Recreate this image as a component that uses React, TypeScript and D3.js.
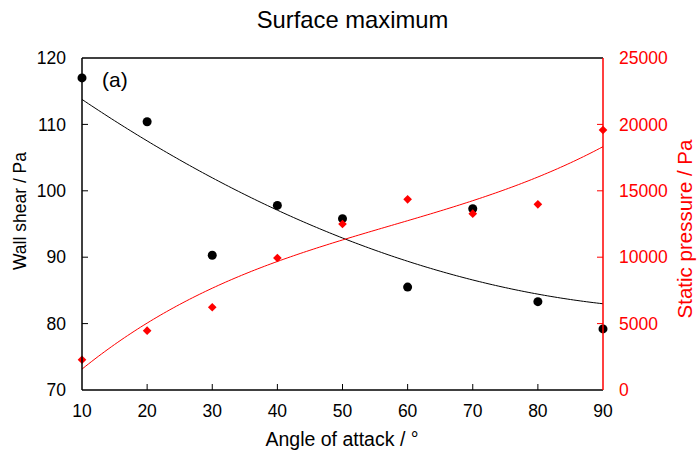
import React from 'react';
import * as d3 from 'd3';

// values
const angles = [10, 20, 30, 40, 50, 60, 70, 80, 90];
const wallShear = [117.0, 110.4, 90.3, 97.8, 95.8, 85.5, 97.3, 83.3, 79.2];
const staticPressure = [2280, 4470, 6230, 9940, 12500, 14360, 13280, 13980, 19580];

const xTicks = [10, 20, 30, 40, 50, 60, 70, 80, 90];
const shearTicks = [70, 80, 90, 100, 110, 120];
const pressureTicks = [0, 5000, 10000, 15000, 20000, 25000];

const FONT = 'Liberation Sans, Arial, sans-serif';
const RED = '#ff0000';

// least squares polynomial fit (normal equations)
function polyfit(xs: number[], ys: number[], order: number) {
  const n = order + 1;
  const A: number[][] = [];
  for (let i = 0; i < n; i++) {
    A.push([]);
    for (let j = 0; j < n; j++) A[i].push(d3.sum(xs, x => Math.pow(x, i + j)));
    A[i].push(d3.sum(xs, (x, k) => Math.pow(x, i) * ys[k]));
  }
  for (let c = 0; c < n; c++) {
    let p = c;
    for (let r = c + 1; r < n; r++) if (Math.abs(A[r][c]) > Math.abs(A[p][c])) p = r;
    [A[c], A[p]] = [A[p], A[c]];
    for (let r = 0; r < n; r++) {
      if (r === c) continue;
      const f = A[r][c] / A[c][c];
      for (let k = c; k <= n; k++) A[r][k] -= f * A[c][k];
    }
  }
  const coef = A.map((row, i) => row[n] / row[i]);
  return (x: number) => coef.reduce((s, a, i) => s + a * Math.pow(x, i), 0);
}

const App = () => {
  const margin = { top: 58, right: 96, bottom: 65, left: 82 };
  const W = 699;
  const H = 455;
  const width = W - margin.left - margin.right;
  const height = H - margin.top - margin.bottom;

  const x = d3.scaleLinear().domain([10, 90]).range([0, width]);
  const yL = d3.scaleLinear().domain([70, 120]).range([height, 0]);
  const yR = d3.scaleLinear().domain([0, 25000]).range([height, 0]);

  const shearFit = polyfit(angles, wallShear, 2);
  const pressureFit = polyfit(angles, staticPressure, 3);
  const xs = d3.range(10, 90.001, 0.5);

  const shearLine = d3.line<number>().x(d => x(d)).y(d => yL(shearFit(d)));
  const pressureLine = d3.line<number>().x(d => x(d)).y(d => yR(pressureFit(d)));

  const diamond = d3.symbol().type(d3.symbolDiamond2).size(48)();

  return (
    <svg width={W} height={H} style={{ position: 'absolute', left: 0, top: 0 }} fontFamily={FONT}>
      <text x={margin.left + width / 2 + 10} y={28} textAnchor="middle" fontSize={23.8}>Surface maximum</text>
      <g transform={`translate(${margin.left},${margin.top})`}>
        {/* ticks */}
        {xTicks.slice(1, -1).map(t => (
          <line key={'xt' + t} x1={x(t)} x2={x(t)} y1={height} y2={height - 6} stroke="#000" />
        ))}
        {shearTicks.slice(1, -1).map(t => (
          <line key={'lt' + t} x1={0} x2={6} y1={yL(t)} y2={yL(t)} stroke="#000" />
        ))}
        {pressureTicks.slice(1, -1).map(t => (
          <line key={'rt' + t} x1={width} x2={width - 6} y1={yR(t)} y2={yR(t)} stroke={RED} />
        ))}

        {/* fits */}
        <path d={shearLine(xs) || ''} fill="none" stroke="#000" strokeWidth={1} />
        <path d={pressureLine(xs) || ''} fill="none" stroke={RED} strokeWidth={1} />

        {/* markers */}
        {angles.map((a, i) => (
          <circle key={'c' + a} cx={x(a)} cy={yL(wallShear[i])} r={4.5} fill="#000" />
        ))}
        {angles.map((a, i) => (
          <path key={'d' + a} d={diamond || ''} transform={`translate(${x(a)},${yR(staticPressure[i])})`} fill={RED} />
        ))}

        {/* frame */}
        <line x1={0} x2={width} y1={0} y2={0} stroke="#000" strokeWidth={1.5} />
        <line x1={0} x2={width} y1={height} y2={height} stroke="#000" strokeWidth={1.5} />
        <line x1={0} x2={0} y1={0} y2={height} stroke="#000" strokeWidth={1.5} />
        <line x1={width} x2={width} y1={0} y2={height} stroke={RED} strokeWidth={1.5} />

        {/* tick labels */}
        {xTicks.map(t => (
          <text key={'xl' + t} x={x(t)} y={height + 27} textAnchor="middle" fontSize={17.5}>{t}</text>
        ))}
        {shearTicks.map(t => (
          <text key={'ll' + t} x={-16} y={yL(t)} dy="0.35em" textAnchor="end" fontSize={17.5}>{t}</text>
        ))}
        {pressureTicks.map(t => (
          <text key={'rl' + t} x={width + 16} y={yR(t)} dy="0.35em" textAnchor="start" fontSize={17.5} fill={RED}>{t}</text>
        ))}

        <text x={20} y={29} fontSize={21}>(a)</text>
      </g>

      {/* axis titles */}
      <text x={342} y={446} textAnchor="middle" fontSize={19.5}>Angle of attack / °</text>
      <text transform="translate(26,211) rotate(-90)" textAnchor="middle" fontSize={17.5}>Wall shear / Pa</text>
      <text transform="translate(692,229) rotate(-90)" textAnchor="middle" fontSize={20.5} fill={RED}>Static pressure / Pa</text>
    </svg>
  );
};

export default App;
